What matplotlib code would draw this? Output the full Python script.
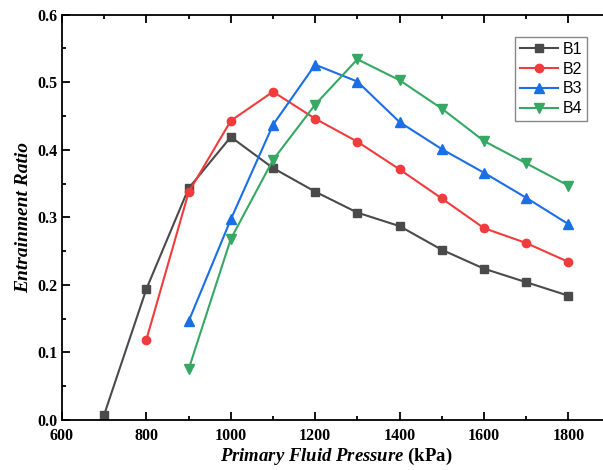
import matplotlib
matplotlib.use("Agg")
import matplotlib.pyplot as plt
from matplotlib.ticker import MultipleLocator

pressure = [700, 800, 900, 1000, 1100, 1200, 1300, 1400, 1500, 1600, 1700, 1800]
b1 = [0.008, 0.194, 0.343, 0.419, 0.373, 0.338, 0.307, 0.287, 0.252, 0.224, 0.204, 0.184]
b2_x = pressure[1:]
b2 = [0.119, 0.337, 0.443, 0.486, 0.446, 0.412, 0.371, 0.328, 0.284, 0.262, 0.234]
b3_x = pressure[2:]
b3 = [0.146, 0.297, 0.437, 0.526, 0.501, 0.441, 0.401, 0.366, 0.329, 0.290]
b4_x = pressure[2:]
b4 = [0.075, 0.268, 0.385, 0.467, 0.534, 0.503, 0.461, 0.413, 0.380, 0.347]
labels = ["B1", "B2", "B3", "B4"]

plt.rcParams['mathtext.fontset'] = 'custom'
plt.rcParams['mathtext.rm'] = 'Liberation Serif'
plt.rcParams['mathtext.bf'] = 'Liberation Serif:bold'
plt.rcParams['mathtext.it'] = 'Liberation Serif:italic'
plt.rcParams['mathtext.bfit'] = 'Liberation Serif:italic:bold'

fig = plt.figure(figsize=(6.03, 4.70), dpi=100)
ax = fig.add_axes([62/603, 50/470, 548.6/603, 405.3/470])

ax.plot(pressure, b1, color='#4a4a4a', marker='s', ms=5.5, lw=1.5, label=labels[0])
ax.plot(b2_x, b2, color='#f03c3c', marker='o', ms=6, lw=1.5, label=labels[1])
ax.plot(b3_x, b3, color='#1a6ee6', marker='^', ms=6.5, lw=1.5, label=labels[2])
ax.plot(b4_x, b4, color='#35a864', marker='v', ms=6.5, lw=1.5, label=labels[3])

ax.set_xlim(600, 1900)
ax.set_ylim(0, 0.6)
ax.xaxis.set_major_locator(MultipleLocator(200))
ax.xaxis.set_minor_locator(MultipleLocator(100))
ax.yaxis.set_major_locator(MultipleLocator(0.1))
ax.yaxis.set_minor_locator(MultipleLocator(0.05))
ax.tick_params(which='both', direction='in', top=True, right=False, width=1.3)
ax.tick_params(which='major', length=6)
ax.tick_params(which='minor', length=3)
ax.tick_params(axis='x', labelsize=11.5, pad=6)
ax.tick_params(axis='y', labelsize=11.5, pad=3)
for lbl in ax.get_xticklabels() + ax.get_yticklabels():
    lbl.set_fontfamily('Liberation Serif')
    lbl.set_fontweight('bold')
ax.yaxis.set_major_formatter(matplotlib.ticker.FormatStrFormatter('%.1f'))
for s in ax.spines.values():
    s.set_linewidth(1.3)
ax.spines['right'].set_visible(False)

ax.set_xlabel(r'$\mathbfit{Primary\ Fluid\ Pressure}$ (kPa)', fontsize=13.5,
              fontfamily='Liberation Serif', fontweight='bold', labelpad=1)
ax.set_ylabel('Entrainment Ratio', fontsize=14, fontfamily='Liberation Serif',
              fontweight='bold', fontstyle='italic', labelpad=4)

leg = ax.legend(loc='upper left', bbox_to_anchor=((515 - 62) / 548.6, 1 - (37 - 14.7) / 405.3),
                prop={'family': 'Liberation Sans', 'size': 11.5}, fancybox=False,
                edgecolor='#888888', framealpha=1, handlelength=2.4, handletextpad=0.3,
                borderpad=0.3, labelspacing=0.3, borderaxespad=0)
leg.get_frame().set_linewidth(1.0)

fig.savefig('out.png', dpi=100)
